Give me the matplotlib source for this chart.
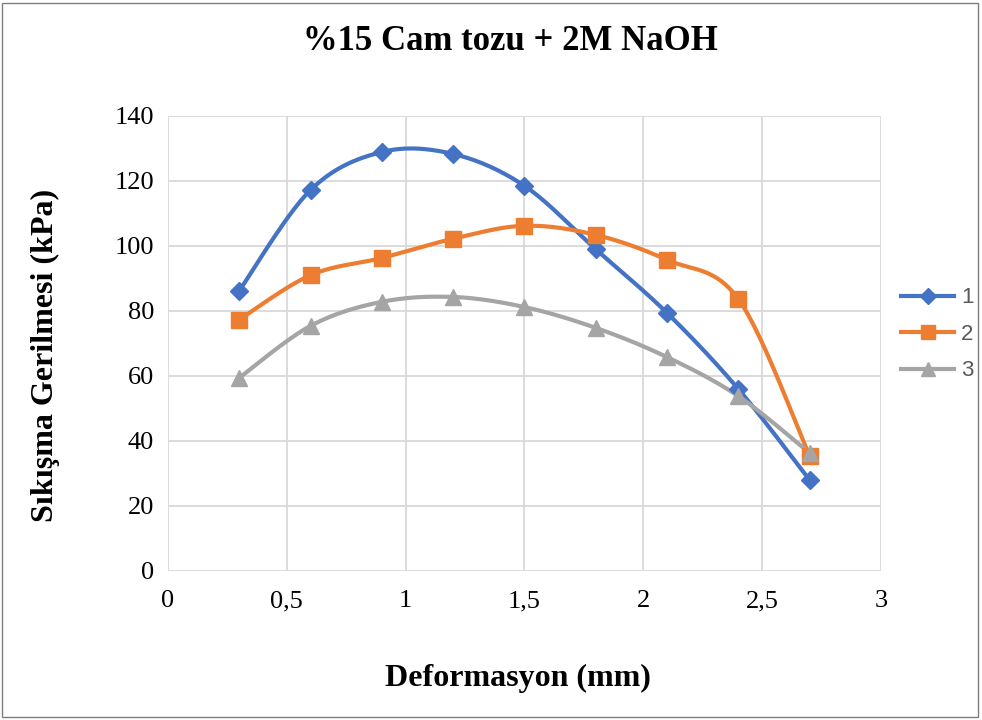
import matplotlib.pyplot as plt
import numpy as np
from matplotlib.patches import Rectangle

# deformation (mm) and compressive stress (kPa) for three specimens
deformasyon = [0.3, 0.6, 0.9, 1.2, 1.5, 1.8, 2.1, 2.4, 2.7]
numune_1 = [86.2, 117.2, 128.9, 128.3, 118.5, 99.0, 79.4, 56.0, 28.0]
numune_2 = [77.3, 91.0, 96.3, 102.2, 106.2, 103.4, 95.7, 83.7, 35.4]
numune_3 = [59.4, 75.4, 82.8, 84.3, 81.2, 74.8, 65.8, 53.8, 36.3]
seri_adlari = ["1", "2", "3"]

renkler = ["#4472C4", "#ED7D31", "#A5A5A5"]
isaretler = ["D", "s", "^"]
isaret_boyut = [9, 11, 11]


def smooth(x, y, n=30):
    # Catmull-Rom style cubic Bezier segments, like a spreadsheet smoothed line
    x = np.asarray(x, float)
    y = np.asarray(y, float)
    px = np.concatenate([[x[0]], x, [x[-1]]])
    py = np.concatenate([[y[0]], y, [y[-1]]])
    xs, ys = [], []
    t = np.linspace(0, 1, n)
    for i in range(1, len(px) - 2):
        p0 = np.array([px[i], py[i]])
        p3 = np.array([px[i + 1], py[i + 1]])
        p1 = p0 + (np.array([px[i + 1], py[i + 1]]) - np.array([px[i - 1], py[i - 1]])) / 6
        p2 = p3 - (np.array([px[i + 2], py[i + 2]]) - np.array([px[i], py[i]])) / 6
        b = ((1 - t) ** 3)[:, None] * p0 + (3 * (1 - t) ** 2 * t)[:, None] * p1 \
            + (3 * (1 - t) * t ** 2)[:, None] * p2 + (t ** 3)[:, None] * p3
        xs.extend(b[:, 0])
        ys.extend(b[:, 1])
    return np.array(xs), np.array(ys)


fig = plt.figure(figsize=(9.82, 7.2), dpi=100)
ax = fig.add_axes([0.171, 0.207, 0.726, 0.632])

serif = "Liberation Serif"
for y, ad, renk, isaret, ms in zip([numune_1, numune_2, numune_3], seri_adlari,
                                   renkler, isaretler, isaret_boyut):
    sx, sy = smooth(deformasyon, y)
    ax.plot(sx, sy, color=renk, lw=3, zorder=3)
    ax.plot(deformasyon, y, linestyle="none", marker=isaret, ms=ms,
            color=renk, zorder=4)
    ax.plot([], [], color=renk, lw=3, marker=isaret, ms=ms - 1, label=ad)

ax.set_xlim(0, 3)
ax.set_ylim(0, 140)
ax.set_xticks(np.arange(0, 3.01, 0.5))
ax.set_xticklabels(["0", "0,5", "1", "1,5", "2", "2,5", "3"])
ax.set_yticks(np.arange(0, 141, 20))
ax.grid(True, color="#D9D9D9", lw=1.3, zorder=0)
ax.set_axisbelow(True)
for s in ax.spines.values():
    s.set_visible(False)
ax.tick_params(length=0, labelsize=19, pad=10)
ax.tick_params(axis="x", pad=14)
for lab in ax.get_xticklabels() + ax.get_yticklabels():
    lab.set_fontfamily(serif)

fig.text(0.527, 1 - 678 / 720, "Deformasyon (mm)", ha="center", va="center",
         fontsize=23, fontweight="bold", fontfamily=serif)
fig.text(45 / 982, 1 - 355 / 720, "Sıkışma Gerilmesi (kPa)", ha="center",
         va="center", rotation=90, fontsize=23, fontweight="bold", fontfamily=serif)
fig.text(0.52, 1 - 42 / 720, "%15 Cam tozu + 2M NaOH", ha="center", va="center",
         fontsize=25, fontweight="bold", fontfamily=serif)

leg = ax.legend(loc="center left", bbox_to_anchor=(1.0, 0.52), frameon=False,
                handlelength=2.4, labelspacing=0.7, handletextpad=0.3,
                prop={"family": "Liberation Sans", "size": 16})
for t in leg.get_texts():
    t.set_color("#595959")

fig.patches.append(Rectangle((0.002, 0.004), 0.994, 0.992, transform=fig.transFigure,
                             fill=False, edgecolor="#7F7F7F", lw=1))

fig.savefig("out.png", dpi=100)
